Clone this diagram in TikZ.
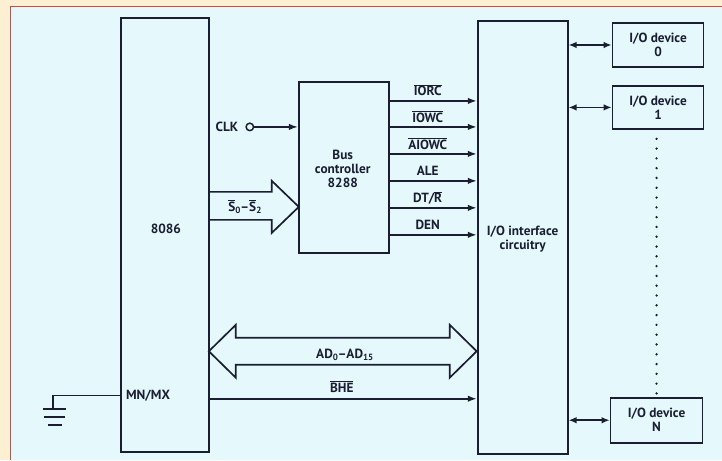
\documentclass[tikz,border=0pt]{standalone}
\usepackage{fontspec}
\setmainfont{PT Sans}
\usetikzlibrary{arrows.meta}
\definecolor{ink}{HTML}{1B1E33}
\definecolor{panel}{HTML}{E5F8FC}
\definecolor{peach}{HTML}{FDEFD2}
\definecolor{framered}{HTML}{D8493C}
\newcommand\ix[1]{\raisebox{-0.4ex}{\fontsize{9}{9}\selectfont #1}}
\newcommand\ob[1]{$\overline{\mbox{#1}}$}
\begin{document}
\begin{tikzpicture}[x=1pt,y=-1pt,
  font=\fontsize{13.3}{14}\selectfont\bfseries, text=ink,
  box/.style={draw=ink, line width=1.8pt, inner sep=0pt},
  txt/.style={inner sep=0pt, align=center},
  sig/.style={draw=ink, line width=1.6pt, -{Latex[length=9pt,width=6.5pt]}},
  dsig/.style={draw=ink, line width=1.6pt, {Latex[length=8pt,width=6.5pt]}-{Latex[length=8pt,width=6.5pt]}},
  bus/.style={draw=ink, line width=1.7pt, line join=miter}]
% background and frame
\fill[peach] (0,0) rectangle (722,460);
\fill[panel] (11,7) rectangle (722,460);
\draw[framered, line width=1pt] (11,460) -- (11,7) -- (722,7);
\useasboundingbox (0,0) rectangle (722,460);

% boxes
\node[box, minimum width=88pt, minimum height=434pt] (cpu) at (165,235) {};
\node[box, minimum width=90pt, minimum height=171pt] (bc) at (344,167.5) {};
\node[box, minimum width=90pt, minimum height=433pt] (io) at (523,237.5) {};
\node[box, minimum width=91pt, minimum height=44pt] (d0) at (658.5,45) {};
\node[box, minimum width=91pt, minimum height=43pt] (d1) at (658.5,107.5) {};
\node[box, minimum width=92pt, minimum height=45pt] (dn) at (657,420.5) {};

% box texts
\node[txt] (tcpu) at (166,229) {8086};
\node[txt] (tbc) at (343,169) {Bus\\controller\\8288};
\node[txt] (tio) at (523,239) {I/O interface\\circuitry};
\node[txt] (td0) at (658.5,45) {I/O device\\0};
\node[txt] (td1) at (658.5,107.5) {I/O device\\1};
\node[txt] (tdn) at (657,420.5) {I/O device\\N};

% CLK
\node[txt] (clk) at (227,127) {CLK};
\node[draw=ink, line width=1.5pt, circle, minimum size=7.5pt, inner sep=0pt] (clkc) at (250,127) {};
\draw[sig] (clkc.east) -- (bc.west |- clkc);

% bus controller outputs
\foreach \yy/\nm in {101/a,127/b,154/c,181/d,208/e,235/f}{
  \coordinate (r\nm) at (0,\yy);
  \draw[sig] (bc.east |- r\nm) -- (io.west |- r\nm);
}
\node[txt] (lorc) at (428,90) {\ob{IORC}};
\node[txt] (lowc) at (428,117) {\ob{IOWC}};
\node[txt] (laowc) at (428,144) {\ob{AIOWC}};
\node[txt] (lale) at (428,171) {ALE};
\node[txt] (ldtr) at (428,198) {DT/\ob{R}};
\node[txt] (lden) at (428,225) {DEN};

% S0-S2 wide arrow
\draw[bus] (209,192) -- (272,192) -- (272,181) -- (299,207) -- (272,233) -- (272,220) -- (209,220);
\node[txt] (ls) at (245,207) {\ob{S}\ix{0}--\ob{S}\ix{2}};

% AD bus double arrow
\draw[bus] (236,338) -- (450,338) -- (450,325) -- (477,351.5) -- (450,378) -- (450,365) -- (236,365) -- (236,378) -- (209,351.5) -- (236,325) -- cycle;
\node[txt] (lad) at (345,355) {AD\ix{0}--AD\ix{15}};

% BHE
\coordinate (rbhe) at (0,399);
\draw[sig] (cpu.east |- rbhe) -- (io.west |- rbhe);
\node[txt] (lbhe) at (342,387) {\ob{BHE}};

% MN/MX and ground
\node[txt, anchor=west] (mnmx) at (126,396) {MN/MX};
\coordinate (gnd) at (53,409);
\draw[ink, line width=1.5pt] (cpu.west |- mnmx) -- (gnd |- mnmx) -- (gnd);
\draw[ink, line width=1.7pt] (43,409) -- (66,409) (44,417) -- (65,417) (48,425) -- (62,425);

% device links
\draw[dsig] (io.east |- d0) -- (d0.west);
\draw[dsig] (io.east |- d1) -- (d1.west);
\draw[dsig] (io.east |- dn) -- (dn.west);

% dotted continuation
\draw[ink, line width=2.6pt, line cap=round, dash pattern=on 0pt off 9.8pt] (d1.south -| 657,0) ++(0,9) coordinate (dtop) -- (dn.north -| dtop);
\end{tikzpicture}
\end{document}
